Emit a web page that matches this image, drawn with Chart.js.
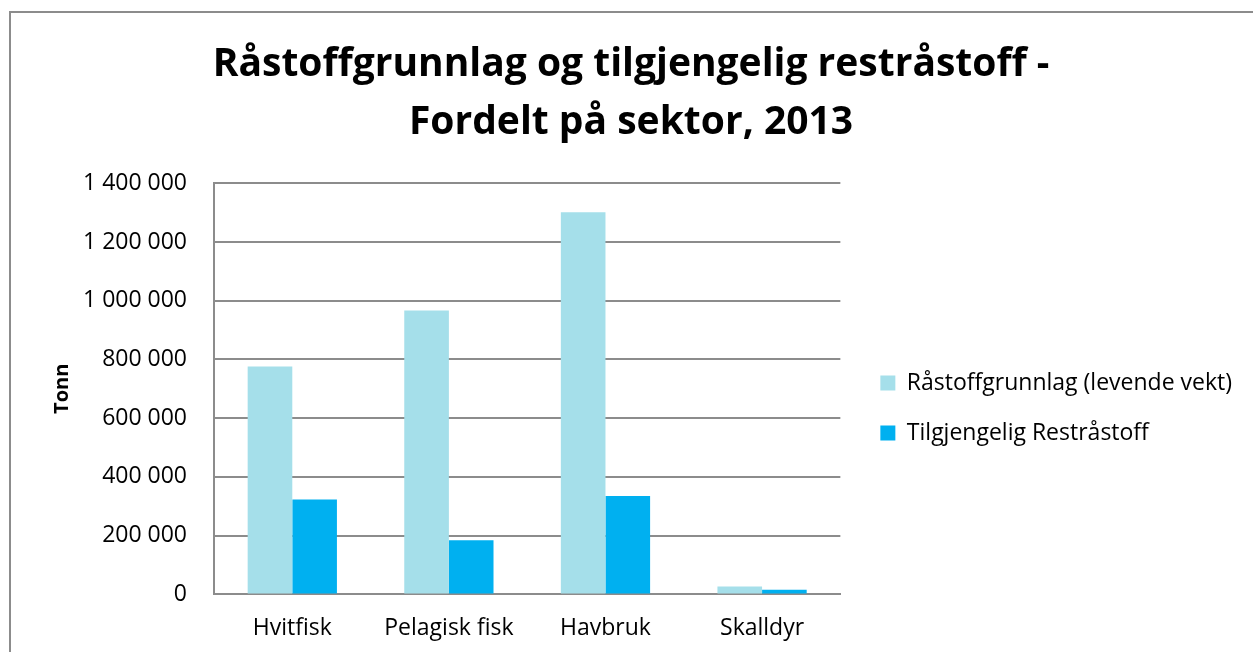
<!DOCTYPE html>
<html>
<head>
<meta charset="utf-8">
<script src="https://cdn.jsdelivr.net/npm/chart.js@4.4.1/dist/chart.umd.min.js"></script>
<style>
    html, body { margin: 0; padding: 0; background: #fff; overflow: hidden; }
    .frame {
        position: absolute; left: 9px; top: 11px; width: 1260px; height: 660px;
        border: 2px solid #8c8c8c; box-sizing: border-box;
    }
    #chart { position: absolute; left: 0; top: 0; }
</style>
</head>
<body>
<div class="frame"></div>
<canvas id="chart" width="1253" height="652"></canvas>
<script>
    // Dữ liệu
    const categories = ['Hvitfisk', 'Pelagisk fisk', 'Havbruk', 'Skalldyr'];
    const seriesNames = ['Råstoffgrunnlag (levende vekt)', 'Tilgjengelig Restråstoff'];
    const raastoff = [776000, 967000, 1301000, 27000];
    const restraastoff = [323000, 184000, 335000, 16000];
    const titleLines = ['Råstoffgrunnlag og tilgjengelig restråstoff -', 'Fordelt på sektor, 2013'];
    const yTitle = 'Tonn';

    const FONT = '"Open Sans"';

    // Format số với dấu cách
    const fmt = (v) => String(v).replace(/\B(?=(\d{3})+(?!\d))/g, ' ');

    const ctx = document.getElementById('chart').getContext('2d');
    new Chart(ctx, {
        type: 'bar',
        data: {
            labels: categories,
            datasets: [
                { label: seriesNames[0], data: raastoff, backgroundColor: '#a5dfea' },
                { label: seriesNames[1], data: restraastoff, backgroundColor: '#00b0f0' }
            ]
        },
        options: {
            responsive: false,
            animation: false,
            layout: { padding: { left: 20, right: 11, top: 0, bottom: -10 } },
            datasets: { bar: { categoryPercentage: 0.57, barPercentage: 1.0 } },
            plugins: {
                title: {
                    display: true,
                    text: titleLines,
                    color: '#000',
                    font: { family: FONT, size: 39, weight: 'bold', lineHeight: 1.49 },
                    padding: { top: 36, bottom: 31 }
                },
                legend: {
                    position: 'right',
                    fullSize: false,
                    maxWidth: 420,
                    title: { display: true, text: '', padding: { top: 24, bottom: 0 } },
                    labels: {
                        color: '#000',
                        boxWidth: 15,
                        boxHeight: 15,
                        padding: 27,
                        font: { family: FONT, size: 23 }
                    }
                },
                tooltip: { enabled: false }
            },
            scales: {
                x: {
                    grid: { display: false, drawTicks: false },
                    border: { color: '#8c8c8c', width: 2 },
                    ticks: { color: '#000', padding: 20, font: { family: FONT, size: 23 } }
                },
                y: {
                    min: 0,
                    max: 1400000,
                    ticks: {
                        stepSize: 200000,
                        color: '#000',
                        padding: 27,
                        font: { family: FONT, size: 23 },
                        callback: (v) => fmt(v)
                    },
                    grid: { color: '#8c8c8c', lineWidth: 2, drawTicks: false },
                    border: { color: '#8c8c8c', width: 2 },
                    title: {
                        display: true,
                        text: yTitle,
                        color: '#000',
                        padding: { top: 30, bottom: -18 },
                        font: { family: FONT, size: 20, weight: 'bold' }
                    }
                },
                // khoảng trống giữa vùng vẽ và chú thích
                gap: {
                    type: 'linear',
                    position: 'right',
                    grid: { display: false, drawTicks: false },
                    border: { display: false },
                    ticks: { display: false },
                    afterFit: (scale) => { scale.width = 13; }
                }
            }
        }
    });
</script>
</body>
</html>
